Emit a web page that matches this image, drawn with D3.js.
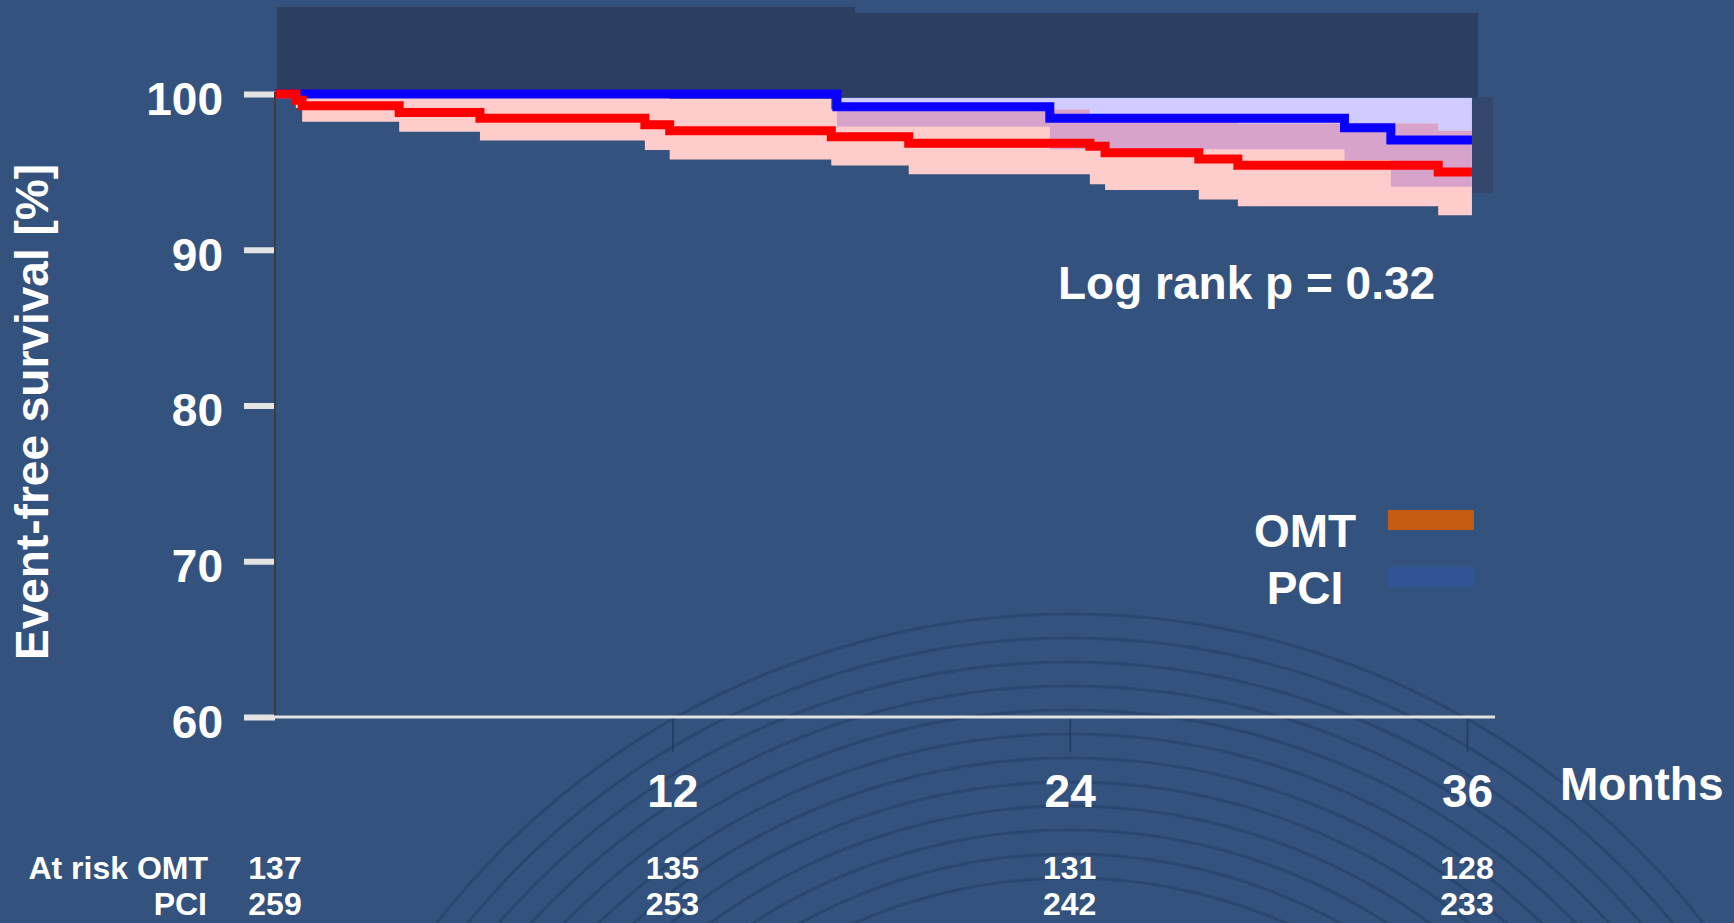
<!DOCTYPE html>
<html>
<head>
<meta charset="utf-8">
<script src="https://cdn.jsdelivr.net/npm/d3@7"></script>
<style>
  html, body { margin: 0; padding: 0; background: #34527e; }
  svg { display: block; }
  text { font-family: "Liberation Sans", Arial, sans-serif; font-weight: bold; fill: #ffffff; }
</style>
</head>
<body>
<svg id="chart" width="1734" height="923"></svg>
<script>
// ---------------- DATA ----------------
const yTicks = [60, 70, 80, 90, 100];
const xTicks = [12, 24, 36];
const endMonth = 36.15;

// OMT Kaplan–Meier estimate with 95% CI (months, % event-free)
const omtTime  = [0, 0.63, 0.82, 3.75, 6.19, 11.17, 11.92, 16.8, 19.14, 24.61, 25.07, 27.9, 29.08, 35.13];
const omtSurv  = [100, 99.6, 99.25, 98.82, 98.44, 98.03, 97.64, 97.26, 96.83, 96.65, 96.23, 95.83, 95.43, 95.0];
const omtLower = [99.7, 99.1, 98.22, 97.58, 97.02, 96.4, 95.8, 95.41, 94.84, 94.21, 93.83, 93.23, 92.8, 92.22];
const omtUpper = [100, 100, 100, 100, 99.85, 99.75, 99.7, 99.0, 99.0, 98.4, 98.35, 98.3, 98.1, 97.64];

// PCI Kaplan–Meier estimate with 95% CI
const pciTime  = [0, 16.97, 23.4, 32.3, 33.7];
const pciSurv  = [100, 99.18, 98.44, 97.83, 97.04];
const pciLower = [100, 97.9, 96.45, 95.75, 94.04];
const pciUpper = [100, 99.75, 99.75, 99.75, 99.75];

// Numbers at risk
const atRiskMonths = [0, 12, 24, 36];
const atRiskOMT = [137, 135, 131, 128];
const atRiskPCI = [259, 253, 242, 233];

const legendLabels = ["OMT", "PCI"];
const legendColors = ["#c55a11", "#2f5597"];
const pValueText = "Log rank p = 0.32";

// ---------------- DRAW ----------------
const svg = d3.select("#chart");
const W = 1734, H = 923;

const x = d3.scaleLinear().domain([0, 36]).range([275, 1467]);
const y = d3.scaleLinear().domain([60, 100]).range([717, 94]);

// background
svg.append("rect").attr("width", W).attr("height", H).attr("fill", "#34527e");

// decorative background arcs
const deco = svg.append("g").attr("fill", "none")
  .attr("stroke", "rgba(32,58,98,0.45)").attr("stroke-width", 3);
d3.range(12).forEach(i => {
  deco.append("circle").attr("cx", 1070).attr("cy", 1417).attr("r", 803 - i * 24);
});

// dark overlay panels at the top of the plot
svg.append("rect").attr("x", 277).attr("y", 7).attr("width", 855 - 277).attr("height", 90).attr("fill", "#2d3f61");
svg.append("rect").attr("x", 855).attr("y", 13).attr("width", 1478 - 855).attr("height", 84).attr("fill", "#2d3f61");

function toPts(time, vals) {
  const pts = time.map((t, i) => [t, vals[i]]);
  pts.push([endMonth, vals[vals.length - 1]]);
  return pts;
}
function bandPts(time, lo, hi) {
  const pts = time.map((t, i) => ({ t, lo: lo[i], hi: hi[i] }));
  pts.push({ t: endMonth, lo: lo[lo.length - 1], hi: hi[hi.length - 1] });
  return pts;
}

const area = d3.area().curve(d3.curveStepAfter)
  .x(d => x(d.t)).y0(d => y(d.lo)).y1(d => y(d.hi));
const line = d3.line().curve(d3.curveStepAfter)
  .x(d => x(d[0])).y(d => y(d[1]));

const pciBand = bandPts(pciTime, pciLower, pciUpper);
const omtBand = bandPts(omtTime, omtLower, omtUpper);

const defs = svg.append("defs");
defs.append("clipPath").attr("id", "pciClip")
  .append("path").attr("d", area(pciBand));

svg.append("path").attr("d", area(pciBand)).attr("fill", "#d0ccff");
svg.append("path").attr("d", area(omtBand)).attr("fill", "#ffcccc");
svg.append("path").attr("d", area(omtBand)).attr("fill", "#d8a3cb").attr("clip-path", "url(#pciClip)");

// survival lines
svg.append("path").attr("d", line(toPts(pciTime, pciSurv)))
  .attr("fill", "none").attr("stroke", "#0a00ff").attr("stroke-width", 9);
svg.append("path").attr("d", line(toPts(omtTime, omtSurv)))
  .attr("fill", "none").attr("stroke", "#ff0000").attr("stroke-width", 9);

// right dark panel
svg.append("rect").attr("x", 1472).attr("y", 97).attr("width", 21).attr("height", 96).attr("fill", "#33476d");

// Y axis
const yAxis = svg.append("g").attr("transform", `translate(${x(0)},0)`)
  .call(d3.axisLeft(y).tickValues(yTicks).tickSize(31).tickPadding(21).tickFormat(d3.format("d")));
yAxis.select(".domain").remove();
yAxis.selectAll(".tick line").attr("stroke", "#e4e4e4").attr("stroke-width", 6);
yAxis.selectAll(".tick text").attr("font-size", 46).attr("fill", "#ffffff")
  .attr("font-family", "Liberation Sans, Arial, sans-serif").attr("font-weight", "bold")
  .attr("dy", "0.44em");
svg.append("line").attr("x1", x(0)).attr("x2", x(0)).attr("y1", y(100) - 2).attr("y2", y(60))
  .attr("stroke", "#3c3c3c").attr("stroke-width", 2);

// X axis
const xAxis = svg.append("g").attr("transform", `translate(0,${y(60)})`)
  .call(d3.axisBottom(x).tickValues(xTicks).tickSize(35).tickPadding(22).tickFormat(d3.format("d")));
xAxis.select(".domain").remove();
xAxis.selectAll(".tick line").attr("stroke", "#1d3c63").attr("stroke-width", 1.5);
xAxis.selectAll(".tick text").attr("font-size", 46).attr("fill", "#ffffff")
  .attr("font-family", "Liberation Sans, Arial, sans-serif").attr("font-weight", "bold");
svg.append("line").attr("x1", x(0) - 7).attr("x2", x(36) + 28).attr("y1", y(60)).attr("y2", y(60))
  .attr("stroke", "#e2e2e2").attr("stroke-width", 3);

svg.append("text").attr("x", 1560).attr("y", 800).attr("font-size", 46).text("Months");

// Y title
svg.append("text").attr("transform", "translate(48,412) rotate(-90)")
  .attr("text-anchor", "middle").attr("font-size", 46).text("Event-free survival [%]");

// p value
svg.append("text").attr("x", 1058).attr("y", 299).attr("font-size", 46).text(pValueText);

// legend
const legY = [547, 604];
legendLabels.forEach((lab, i) => {
  svg.append("text").attr("x", 1305).attr("y", legY[i]).attr("text-anchor", "middle")
    .attr("font-size", 46).text(lab);
  svg.append("rect").attr("x", 1388).attr("y", legY[i] - 37).attr("width", 86).attr("height", 20)
    .attr("fill", legendColors[i]);
});

// numbers at risk
svg.append("text").attr("x", 208).attr("y", 879).attr("text-anchor", "end").attr("font-size", 32).text("At risk OMT");
svg.append("text").attr("x", 207).attr("y", 915).attr("text-anchor", "end").attr("font-size", 32).text("PCI");
atRiskMonths.forEach((m, i) => {
  svg.append("text").attr("x", x(m)).attr("y", 879).attr("text-anchor", "middle").attr("font-size", 32).text(atRiskOMT[i]);
  svg.append("text").attr("x", x(m)).attr("y", 915).attr("text-anchor", "middle").attr("font-size", 32).text(atRiskPCI[i]);
});
</script>
</body>
</html>
